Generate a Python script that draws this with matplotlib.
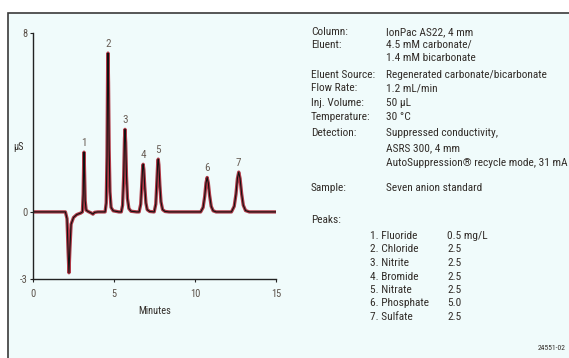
import matplotlib
matplotlib.use("Agg")
import matplotlib.pyplot as plt
from matplotlib import font_manager
from matplotlib.patches import Rectangle

# chromatogram trace (minutes, µS)
time_min = [
    0.0, 2.0, 2.1, 2.17, 2.22, 2.28, 2.35, 2.5, 2.7, 2.95,
    3.05, 3.10, 3.13, 3.15, 3.18, 3.22, 3.28, 3.4, 3.6, 3.7, 3.8, 4.0,
    4.45, 4.52, 4.57, 4.61, 4.63, 4.66, 4.70, 4.75, 4.82, 4.95, 5.3,
    5.45, 5.53, 5.60, 5.65, 5.68, 5.72, 5.77, 5.83, 5.92, 6.05, 6.4,
    6.55, 6.65, 6.72, 6.77, 6.80, 6.84, 6.90, 6.97, 7.05, 7.2,
    7.48, 7.58, 7.65, 7.70, 7.73, 7.77, 7.83, 7.90, 8.0, 8.15, 8.4,
    10.35, 10.5, 10.6, 10.68, 10.75, 10.82, 10.9, 11.0, 11.12, 11.3,
    12.25, 12.42, 12.53, 12.62, 12.70, 12.78, 12.88, 12.98, 13.12, 13.35, 15.0,
]
signal_us = [
    0.0, 0.0, -0.3, -1.8, -2.72, -1.6, -0.55, -0.25, -0.12, -0.05,
    0.0, 0.8, 2.2, 2.67, 1.8, 0.5, 0.08, 0.02, -0.05, -0.1, -0.02, 0.0,
    0.0, 0.4, 2.5, 6.5, 7.1, 5.8, 2.8, 0.9, 0.2, 0.05, 0.0,
    0.0, 0.3, 1.6, 3.3, 3.69, 3.1, 1.6, 0.6, 0.15, 0.03, 0.0,
    0.0, 0.35, 1.3, 2.0, 2.13, 1.9, 1.1, 0.4, 0.1, 0.02,
    0.0, 0.35, 1.4, 2.2, 2.36, 2.1, 1.2, 0.45, 0.1, 0.02, 0.0,
    0.0, 0.2, 0.7, 1.3, 1.54, 1.3, 0.75, 0.25, 0.05, 0.0,
    0.0, 0.25, 0.8, 1.5, 1.78, 1.5, 0.8, 0.3, 0.06, 0.0, 0.0,
]

peak_numbers = ["1", "2", "3", "4", "5", "6", "7"]
peak_times = [3.15, 4.63, 5.68, 6.80, 7.73, 10.75, 12.70]
peak_heights = [2.67, 7.1, 3.69, 2.13, 2.36, 1.54, 1.78]

x_ticks = [0, 5, 10, 15]
y_ticks = [-3, 0, 8]

conditions = [
    ("Column:", "IonPac AS22, 4 mm"),
    ("Eluent:", "4.5 mM carbonate/"),
    ("", "1.4 mM bicarbonate"),
    ("Eluent Source:", "Regenerated carbonate/bicarbonate"),
    ("Flow Rate:", "1.2 mL/min"),
    ("Inj. Volume:", "50 µL"),
    ("Temperature:", "30 °C"),
    ("Detection:", "Suppressed conductivity,"),
    ("", "ASRS 300, 4 mm"),
    ("", "AutoSuppression® recycle mode, 31 mA"),
    ("Sample:", "Seven anion standard"),
]
condition_rows_px = [32, 45, 58, 75, 88, 103, 117, 133, 148, 163, 188]

peak_names = ["1. Fluoride", "2. Chloride", "3. Nitrite", "4. Bromide",
              "5. Nitrate", "6. Phosphate", "7. Sulfate"]
peak_amounts = ["0.5 mg/L", "2.5", "2.5", "2.5", "2.5", "5.0", "2.5"]

W, H = 569, 358
installed = {f.name for f in font_manager.fontManager.ttflist}
font = next((f for f in ["Liberation Sans Narrow", "Roboto Condensed", "Roboto"]
             if f in installed), "DejaVu Sans")
plt.rcParams["font.family"] = [font, "DejaVu Sans"]
plt.rcParams["axes.unicode_minus"] = False

txt = "#332e2a"
bg = "#f0fbfb"

fig = plt.figure(figsize=(W / 100, H / 100), dpi=100)
fig.patch.set_facecolor("white")
frame = Rectangle((8 / W, -0.05), 1.1, 1 - 13 / H + 0.05,
                  transform=fig.transFigure, facecolor=bg,
                  edgecolor="#3a3a3a", linewidth=1.2, zorder=-5)
fig.add_artist(frame)

ax = fig.add_axes([33 / W, 1 - 279 / H, (276 - 33) / W, (279 - 33) / H])
ax.set_zorder(2)
ax.set_facecolor("none")
ax.plot(time_min, signal_us, color="#b03a48", lw=2.4, solid_joinstyle="round")
ax.plot(time_min, signal_us, color="#111111", lw=0.8, solid_joinstyle="round")

for num, t, h in zip(peak_numbers, peak_times, peak_heights):
    ax.annotate(num, (t, h), xytext=(0, 3), textcoords="offset points",
                ha="center", va="bottom", fontsize=8, color="#6a6058")

ax.set_xlim(0, 15)
ax.set_ylim(-3, 8)
ax.set_xticks(x_ticks)
ax.set_yticks(y_ticks)
for s in ["top", "right"]:
    ax.spines[s].set_visible(False)
for s in ["left", "bottom"]:
    ax.spines[s].set_color("#222222")
    ax.spines[s].set_linewidth(1.0)
ax.tick_params(length=2, width=0.8, labelsize=7.5, labelcolor="#5a5048",
               color="#222222")
ax.tick_params(axis="x", pad=5)
ax.tick_params(axis="y", pad=2)
ax.set_xlabel("Minutes", fontsize=7.5, color=txt, labelpad=5)
fig.text(18 / W, 1 - 147 / H, "µS", fontsize=7.5, color=txt,
         ha="center", va="center")

fs = 8.2
for (label, value), ypx in zip(conditions, condition_rows_px):
    y = 1 - ypx / H
    if label:
        fig.text(311 / W, y, label, fontsize=fs, color=txt, va="center")
    fig.text(386 / W, y, value, fontsize=fs, color=txt, va="center")

fig.text(311 / W, 1 - 220 / H, "Peaks:", fontsize=fs, color=txt, va="center")
for i, (name, amt) in enumerate(zip(peak_names, peak_amounts)):
    y = 1 - (236 + 13.5 * i) / H
    fig.text(370 / W, y, name, fontsize=fs, color=txt, va="center")
    fig.text(447 / W, y, amt, fontsize=fs, color=txt, va="center")

fig.text(566 / W, 1 - 348 / H, "24551-02", fontsize=5.5, color=txt,
         ha="right", va="center")

fig.savefig("out.png", dpi=100, facecolor=fig.get_facecolor())
